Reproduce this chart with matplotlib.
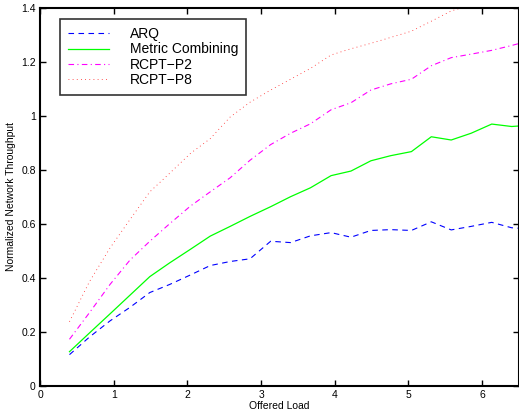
import matplotlib
matplotlib.use('Agg')
import matplotlib.pyplot as plt

# Offered load grid (x values)
load = [0.40, 0.67, 0.95, 1.22, 1.49, 1.76, 2.04, 2.31, 2.58, 2.85, 3.13, 3.40,
        3.67, 3.95, 4.22, 4.49, 4.76, 5.04, 5.31, 5.58, 5.85, 6.13, 6.40, 6.67]

arq = [0.115, 0.18, 0.24, 0.29, 0.345, 0.375, 0.41, 0.445, 0.46, 0.47, 0.535, 0.53,
       0.555, 0.567, 0.55, 0.575, 0.578, 0.575, 0.607, 0.577, 0.59, 0.605, 0.585, 0.58]
metric = [0.126, 0.195, 0.266, 0.335, 0.404, 0.455, 0.505, 0.554, 0.59, 0.627, 0.663, 0.70,
          0.733, 0.778, 0.795, 0.833, 0.852, 0.867, 0.922, 0.91, 0.935, 0.969, 0.96, 0.965]
rcpt_p2 = [0.172, 0.27, 0.375, 0.465, 0.535, 0.60, 0.665, 0.718, 0.77, 0.835, 0.893, 0.935,
           0.97, 1.022, 1.048, 1.095, 1.118, 1.135, 1.185, 1.215, 1.228, 1.242, 1.26, 1.28]
rcpt_p8 = [0.237, 0.385, 0.51, 0.615, 0.718, 0.787, 0.86, 0.915, 0.995, 1.05, 1.095, 1.135,
           1.175, 1.225, 1.248, 1.268, 1.29, 1.313, 1.35, 1.388, 1.41, 1.43, 1.45, 1.47]

series_names = ['ARQ', 'Metric Combining', 'RCPT\u2212P2', 'RCPT\u2212P8']

plt.rcParams['font.family'] = ['Liberation Sans', 'DejaVu Sans']

fig = plt.figure(figsize=(5.19, 4.20), dpi=100)
ax = fig.add_axes([40 / 519, 34.3 / 420, 479 / 519, 378 / 420])

ax.plot(load, arq, color='#0000ff', lw=0.8, ls=(0, (5, 4)), label=series_names[0])
ax.plot(load, metric, color='#00ff00', lw=0.9, ls='-', label=series_names[1])
ax.plot(load, rcpt_p2, color='#ff00ff', lw=0.8, ls=(0, (5, 3, 1, 3)), label=series_names[2])
ax.plot(load, rcpt_p8, color='#ff2020', lw=0.6, ls=(0, (1, 4)), label=series_names[3])

ax.set_xlim(0, 6.5)
ax.set_ylim(0, 1.4)
ax.set_xticks([0, 1, 2, 3, 4, 5, 6])
ax.set_yticks([0, 0.2, 0.4, 0.6, 0.8, 1, 1.2, 1.4])
ax.set_yticklabels(['0', '0.2', '0.4', '0.6', '0.8', '1', '1.2', '1.4'])
ax.tick_params(direction='in', top=True, right=True, length=4, width=1, labelsize=7.5, pad=3)

for s in ax.spines.values():
    s.set_linewidth(1.5)

ax.set_xlabel('Offered Load', fontsize=7.5, labelpad=1)
ax.set_ylabel('Normalized Network Throughput', fontsize=7.5, labelpad=4)

leg = ax.legend(loc='upper left', bbox_to_anchor=(0.042, 0.971), borderaxespad=0,
                fontsize=10, frameon=True, fancybox=False, handlelength=2.9,
                handletextpad=1.5, labelspacing=0.1, borderpad=0.6)
leg.get_frame().set_edgecolor('black')
leg.get_frame().set_linewidth(1.2)

fig.savefig('out.png', dpi=100)
